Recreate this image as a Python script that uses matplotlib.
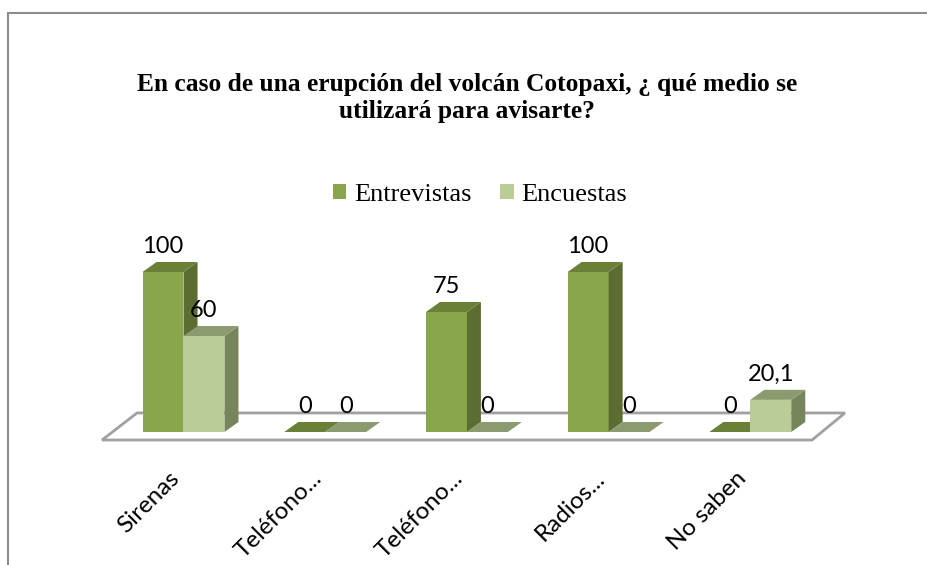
import numpy as np
import matplotlib.pyplot as plt
from matplotlib.patches import Polygon, Patch, Rectangle

# datos de la encuesta
categorias = ['Sirenas', 'Teléfono...', 'Teléfono...', 'Radios...', 'No saben']
entrevistas = [100, 0, 75, 100, 0]
encuestas = [60, 0, 0, 0, 20.1]
etiq_entrevistas = ['100', '0', '75', '100', '0']
etiq_encuestas = ['60', '0', '0', '0', '20,1']

titulo = 'En caso de una erupción del volcán Cotopaxi, ¿ qué medio se\nutilizará para avisarte?'

# colores (frente, lado, tapa)
col_entr = ('#8AA64C', '#5B6D31', '#6A8037')
col_enc = ('#BBCD96', '#76865A', '#8B9B6F')

W, H = 928, 565
fig = plt.figure(figsize=(W / 100, H / 100), dpi=100)

# marco del gráfico
fig.add_artist(Rectangle((8.5 / W, -0.1), 1.2, (H - 12.5) / H + 0.1,
                         transform=fig.transFigure, fill=False,
                         edgecolor='#8C8C8C', lw=1.5))

# ejes: x = categoría, y = porcentaje
x0, x1 = -0.6, 4.6
y0, y1 = -20, 110
left_px = 183.5 + x0 * 141.7
ax_w = (x1 - x0) * 141.7
bot_px = 133 + y0 * 1.6
ax_h = (y1 - y0) * 1.6
ax = fig.add_axes([left_px / W, bot_px / H, ax_w / W, ax_h / H])
ax.set_xlim(x0, x1)
ax.set_ylim(y0, y1)
ax.axis('off')

ancho = 0.289
ddx, ddy = 0.099, 6.25   # profundidad de las barras

# piso
piso = Polygon([(-0.575, -5), (4.436, -5), (4.668, 11.9), (-0.328, 11.9)],
               closed=True, facecolor='white', edgecolor='#A0A0A0', lw=2,
               zorder=1, clip_on=False)
ax.add_patch(piso)


def barra3d(xl, v, cols):
    fr, la, ta = cols
    xr = xl + ancho
    if v > 0:
        ax.add_patch(Polygon([(xl, 0), (xr, 0), (xr, v), (xl, v)],
                             facecolor=fr, edgecolor='none', zorder=3, clip_on=False))
        ax.add_patch(Polygon([(xr, 0), (xr + ddx, ddy), (xr + ddx, v + ddy), (xr, v)],
                             facecolor=la, edgecolor='none', zorder=3, clip_on=False))
    ax.add_patch(Polygon([(xl, v), (xr, v), (xr + ddx, v + ddy), (xl + ddx, v + ddy)],
                         facecolor=ta, edgecolor='none', zorder=3, clip_on=False))


fuente = ['Lato', 'DejaVu Sans']
for i in range(len(categorias)):
    barra3d(i - ancho, entrevistas[i], col_entr)
    barra3d(i, encuestas[i], col_enc)
    ax.text(i - ancho / 2, entrevistas[i] + 16, etiq_entrevistas[i],
            ha='center', va='center', fontsize=17, family=fuente, zorder=5)
    ax.text(i + ancho / 2, encuestas[i] + 16, etiq_encuestas[i],
            ha='center', va='center', fontsize=17, family=fuente, zorder=5)
    ax.text(i - 0.05, -27, categorias[i], rotation=45, rotation_mode='anchor',
            ha='right', va='center', fontsize=17.5, family=fuente)

fig.text(467 / W, (H - 98) / H, titulo, ha='center', va='center',
         fontsize=18.4, fontweight='bold', family='Liberation Serif', linespacing=1.25)

fig.legend(handles=[Patch(facecolor=col_entr[0], label='Entrevistas'),
                    Patch(facecolor=col_enc[0], label='Encuestas')],
           loc='center', bbox_to_anchor=(480 / W, (H - 195) / H), ncol=2,
           frameon=False, handlelength=0.5, handleheight=0.5, handletextpad=0.3,
           columnspacing=1.1, prop={'family': 'Liberation Serif', 'size': 19})

fig.savefig('out.png', dpi=100)
